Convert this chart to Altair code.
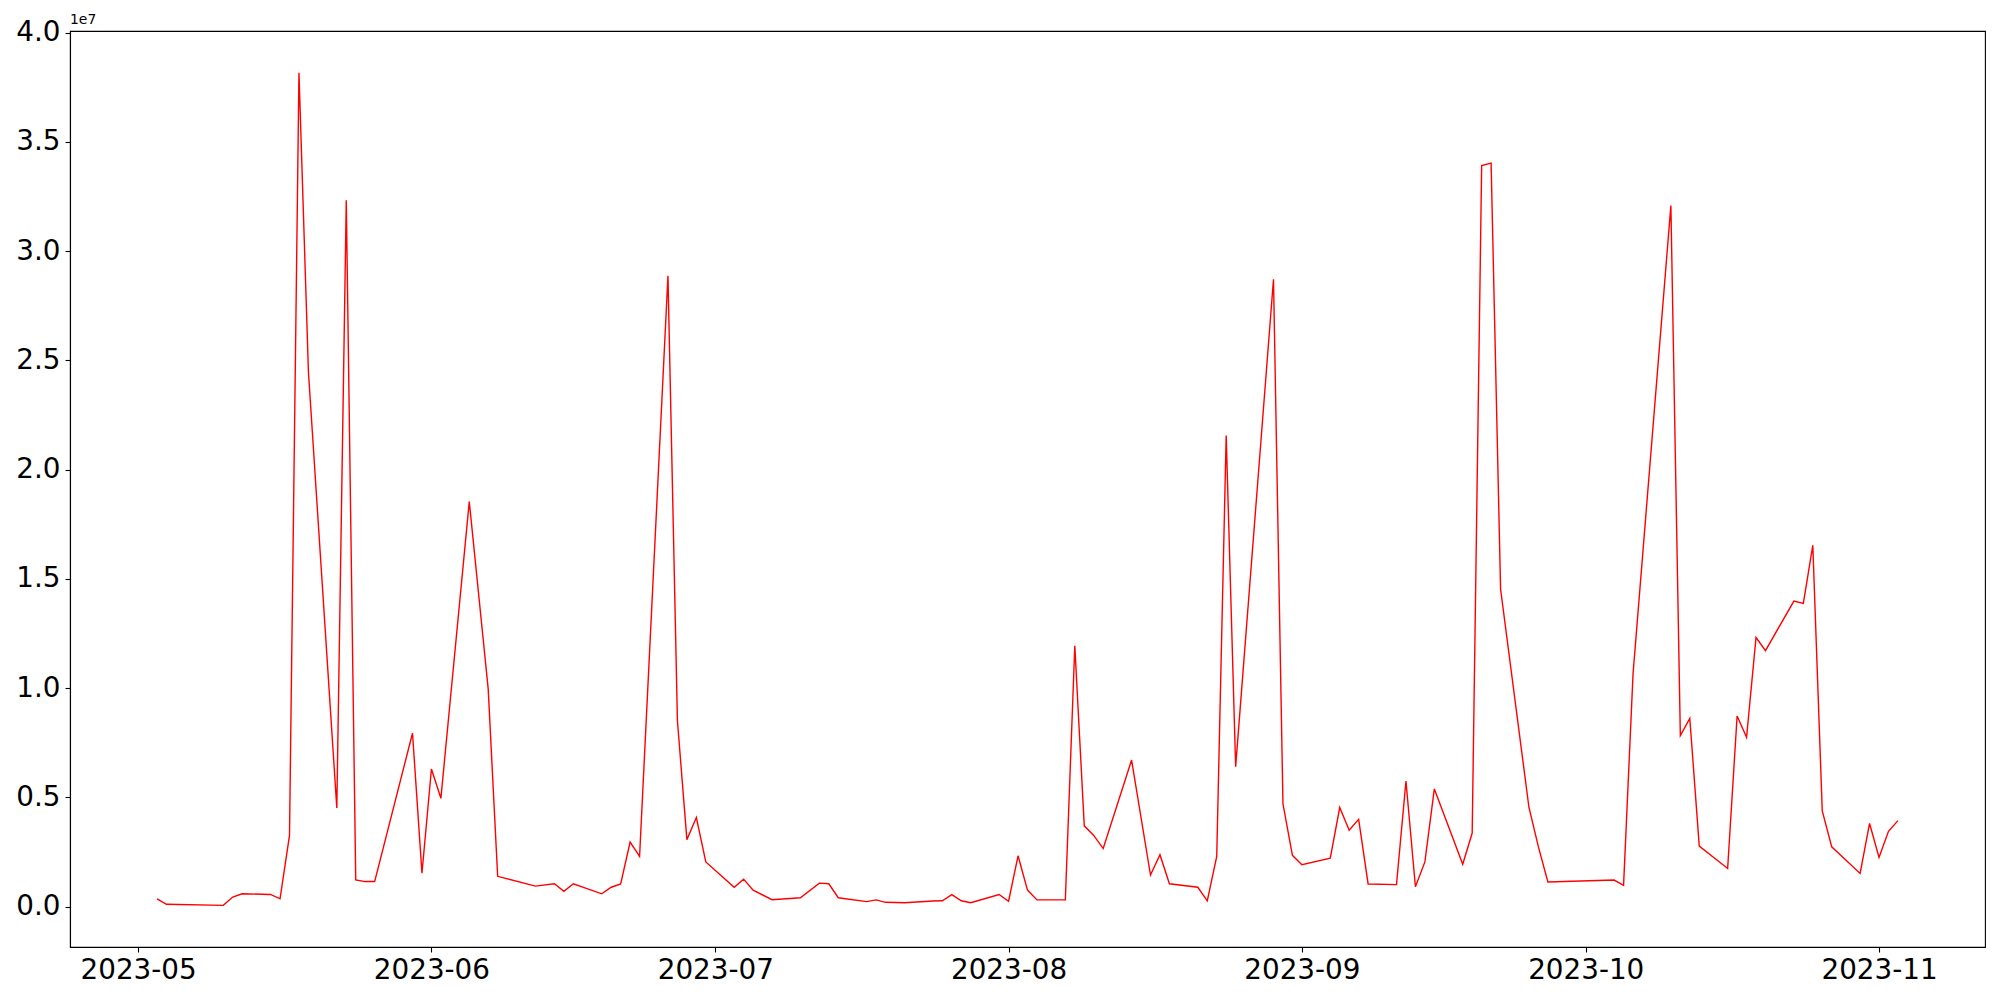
import altair as alt
import pandas as pd

dates = [
    "2023-05-03", "2023-05-04", "2023-05-10", "2023-05-11", "2023-05-12", "2023-05-15",
    "2023-05-16", "2023-05-17", "2023-05-18", "2023-05-19", "2023-05-22", "2023-05-23",
    "2023-05-24", "2023-05-25", "2023-05-26", "2023-05-30", "2023-05-31", "2023-06-01",
    "2023-06-02", "2023-06-05", "2023-06-07", "2023-06-08", "2023-06-12", "2023-06-14",
    "2023-06-15", "2023-06-16", "2023-06-19", "2023-06-20", "2023-06-21", "2023-06-22",
    "2023-06-23", "2023-06-26", "2023-06-27", "2023-06-28", "2023-06-29", "2023-06-30",
    "2023-07-03", "2023-07-04", "2023-07-05", "2023-07-07", "2023-07-10", "2023-07-12",
    "2023-07-13", "2023-07-14", "2023-07-17", "2023-07-18", "2023-07-19", "2023-07-21",
    "2023-07-24", "2023-07-25", "2023-07-26", "2023-07-27", "2023-07-28", "2023-07-31",
    "2023-08-01", "2023-08-02", "2023-08-03", "2023-08-04", "2023-08-07", "2023-08-08",
    "2023-08-09", "2023-08-10", "2023-08-11", "2023-08-14", "2023-08-16", "2023-08-17",
    "2023-08-18", "2023-08-21", "2023-08-22", "2023-08-23", "2023-08-24", "2023-08-25",
    "2023-08-29", "2023-08-30", "2023-08-31", "2023-09-01", "2023-09-04", "2023-09-05",
    "2023-09-06", "2023-09-07", "2023-09-08", "2023-09-11", "2023-09-12", "2023-09-13",
    "2023-09-14", "2023-09-15", "2023-09-18", "2023-09-19", "2023-09-20", "2023-09-21",
    "2023-09-22", "2023-09-25", "2023-09-26", "2023-09-27", "2023-10-04", "2023-10-05",
    "2023-10-06", "2023-10-10", "2023-10-11", "2023-10-12", "2023-10-13", "2023-10-16",
    "2023-10-17", "2023-10-18", "2023-10-19", "2023-10-20", "2023-10-23", "2023-10-24",
    "2023-10-25", "2023-10-26", "2023-10-27", "2023-10-30", "2023-10-31", "2023-11-01",
    "2023-11-02", "2023-11-03",
]

values = [
    360000, 110000, 60000, 440000, 590000, 560000,
    360000, 3260000, 38170000, 24480000, 4520000, 32330000,
    1230000, 1150000, 1150000, 7940000, 1530000, 6300000,
    4960000, 18540000, 9970000, 1390000, 940000, 1050000,
    700000, 1050000, 590000, 890000, 1040000, 2960000,
    2300000, 28880000, 8510000, 3070000, 4080000, 2050000,
    890000, 1260000, 760000, 320000, 410000, 1080000,
    1050000, 410000, 230000, 310000, 200000, 180000,
    260000, 270000, 550000, 270000, 180000, 560000,
    250000, 2330000, 760000, 310000, 310000, 11940000,
    3700000, 3260000, 2660000, 6710000, 1450000, 2380000,
    1050000, 890000, 270000, 2300000, 21570000, 6410000,
    28720000, 4710000, 2350000, 1920000, 2220000, 4540000,
    3500000, 4000000, 1040000, 1010000, 5750000, 910000,
    2050000, 5390000, 1940000, 3370000, 33920000, 34030000,
    14540000, 4540000, 2740000, 1130000, 1220000, 980000,
    10650000, 32090000, 7830000, 8620000, 2770000, 1750000,
    8730000, 7750000, 12320000, 11720000, 13990000, 13880000,
    16540000, 4380000, 2740000, 1520000, 3810000, 2250000,
    3450000, 3940000,
]

y_ticks = [0, 5000000, 10000000, 15000000, 20000000, 25000000, 30000000, 35000000, 40000000]
x_tick_months = [5, 6, 7, 8, 9, 10, 11]
offset_label = ["1e7"]

df = pd.DataFrame({"date": dates, "value": values})
df_off = pd.DataFrame({"t": offset_label})

FONT = "DejaVu Sans"

x_scale = alt.Scale(
    type="utc",
    domain=[
        alt.DateTime(year=2023, month=4, date=23, hours=19, minutes=12, utc=True),
        alt.DateTime(year=2023, month=11, date=12, hours=4, minutes=48, utc=True),
    ],
    nice=False,
)

line = alt.Chart(df).mark_line(color="#ff0000", strokeWidth=1.4, clip=True).encode(
    x=alt.X(
        "date:T",
        scale=x_scale,
        axis=alt.Axis(
            title=None,
            values=[alt.DateTime(year=2023, month=m, date=1, utc=True) for m in x_tick_months],
            labelExpr="utcFormat(datum.value, '%Y-%m')",
            labelFont=FONT,
            labelFontSize=27.8,
            labelColor="black",
            labelPadding=4,
            tickSize=5,
            tickWidth=1.1,
            tickColor="black",
            domainColor="black",
            domainWidth=1.1,
            grid=False,
            labelFlush=False,
            labelOverlap=False,
        ),
    ),
    y=alt.Y(
        "value:Q",
        scale=alt.Scale(domain=[-1845000, 40080000], nice=False, zero=False),
        axis=alt.Axis(
            title=None,
            values=y_ticks,
            labelExpr="format(datum.value / 10000000, '.1f')",
            labelFont=FONT,
            labelFontSize=27.8,
            labelColor="black",
            labelPadding=5,
            tickSize=5,
            tickWidth=1.1,
            tickColor="black",
            domainColor="black",
            domainWidth=1.1,
            grid=False,
            labelOverlap=False,
            labelFlush=False,
        ),
    ),
)

offset = alt.Chart(df_off).mark_text(
    align="left", baseline="bottom", font=FONT, fontSize=13.9, color="black"
).encode(
    x=alt.value(0),
    y=alt.value(-4),
    text="t:N",
)

chart = alt.layer(line, offset).properties(
    width=1915,
    height=916,
    padding={"left": 62, "top": 23, "right": 7, "bottom": 40},
    autosize=alt.AutoSizeParams(type="none"),
    background="white",
).configure_view(
    stroke="black",
    strokeWidth=1.1,
)

chart.save("out.html", embed_options={"renderer": "svg", "actions": False})
